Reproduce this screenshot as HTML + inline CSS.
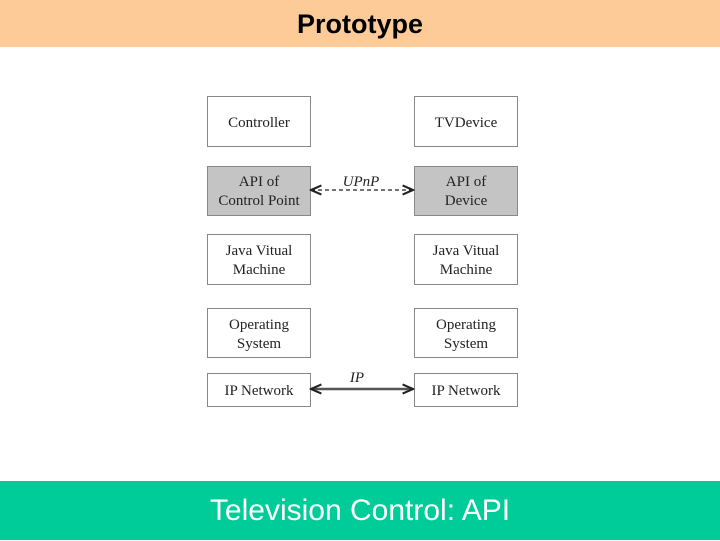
<html><body style="margin:0;width:720px;height:540px;position:relative;background:#fff;font-family:'Liberation Sans',sans-serif;overflow:hidden">
<div style="position:absolute;left:0;top:0;width:720px;height:47px;background:#FCCB98;text-align:center;font-weight:bold;font-size:27px;line-height:48px;color:#000">Prototype</div>
<svg width="720" height="540" style="position:absolute;left:0;top:0" font-family="Liberation Serif" font-size="15" fill="#222">
<defs><marker id="a" viewBox="0 0 10 10" refX="9" refY="5" markerUnits="userSpaceOnUse" markerWidth="13" markerHeight="13" orient="auto-start-reverse"><path d="M1,1.5 L9,5 L1,8.5" fill="none" stroke="#222" stroke-width="1.6"/></marker></defs>
<g stroke="#888" stroke-width="1" fill="#fff">
<rect x="207.5" y="96.5" width="103" height="50"/><rect x="414.5" y="96.5" width="103" height="50"/>
<rect x="207.5" y="166.5" width="103" height="49" fill="#c4c4c4"/><rect x="414.5" y="166.5" width="103" height="49" fill="#c4c4c4"/>
<rect x="207.5" y="234.5" width="103" height="50"/><rect x="414.5" y="234.5" width="103" height="50"/>
<rect x="207.5" y="308.5" width="103" height="49"/><rect x="414.5" y="308.5" width="103" height="49"/>
<rect x="207.5" y="373.5" width="103" height="33"/><rect x="414.5" y="373.5" width="103" height="33"/>
</g>
<line x1="311" y1="190" x2="413" y2="190" stroke="#222" stroke-width="1.2" stroke-dasharray="4,3" marker-start="url(#a)" marker-end="url(#a)"/>
<line x1="311" y1="389" x2="413" y2="389" stroke="#555" stroke-width="2.5" marker-start="url(#a)" marker-end="url(#a)"/>
<g text-anchor="middle">
<text x="259" y="127">Controller</text><text x="466" y="127">TVDevice</text>
<text x="259" y="186">API of</text><text x="259" y="205">Control Point</text>
<text x="466" y="186">API of</text><text x="466" y="205">Device</text>
<text x="259" y="255">Java Vitual</text><text x="259" y="274">Machine</text>
<text x="466" y="255">Java Vitual</text><text x="466" y="274">Machine</text>
<text x="259" y="329">Operating</text><text x="259" y="348">System</text>
<text x="466" y="329">Operating</text><text x="466" y="348">System</text>
<text x="259" y="395">IP Network</text><text x="466" y="395">IP Network</text>
<text x="361" y="186" font-style="italic">UPnP</text><text x="357" y="382" font-style="italic">IP</text>
</g>
</svg>
<div style="position:absolute;left:0;top:481px;width:720px;height:59px;background:#00CC99;text-align:center;color:#fff;font-size:30px;line-height:60px">Television Control: API</div>
</body></html>
